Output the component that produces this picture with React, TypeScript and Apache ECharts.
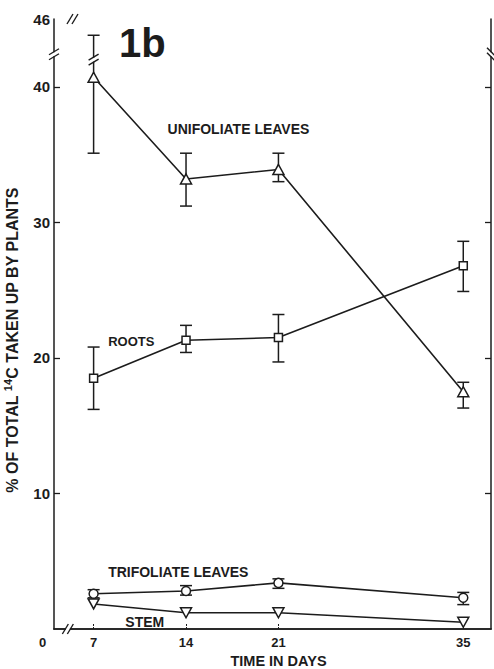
import React, { useEffect, useRef } from 'react';
import * as echarts from 'echarts';

// ---- data ----
const days = [7, 14, 21, 35];
const xTicks = [7, 14, 21, 35];
const yTicks = [10, 20, 30, 40];
const yTopValue = 45;
const yTopLabel = '46';

const unifoliate = [40.7, 33.2, 33.9, 17.5];
const unifoliateHigh = [43.8, 35.1, 35.1, 18.2];
const unifoliateLow = [35.1, 31.2, 33.0, 16.3];

const roots = [18.5, 21.3, 21.5, 26.8];
const rootsHigh = [20.8, 22.4, 23.2, 28.6];
const rootsLow = [16.2, 20.4, 19.7, 24.9];

const trifoliate = [2.6, 2.8, 3.4, 2.3];
const trifoliateHigh = [2.9, 3.2, 3.7, 2.7];
const trifoliateLow = [2.3, 2.5, 3.0, 1.8];

const stem = [1.85, 1.2, 1.2, 0.5];

const INK = '#1c1c1c';
const FONT = 'Liberation Sans, Arial, Helvetica, sans-serif';

function errorSeries(low: number[], high: number[]) {
  return {
    type: 'custom',
    z: 2,
    renderItem: (params: any, api: any) => {
      const x = api.value(0);
      const lo = api.coord([x, api.value(1)]);
      const hi = api.coord([x, api.value(2)]);
      const hw = 6;
      const style = { stroke: INK, lineWidth: 1.5, fill: 'none' };
      return {
        type: 'group',
        children: [
          { type: 'line', shape: { x1: lo[0], y1: lo[1], x2: hi[0], y2: hi[1] }, style },
          { type: 'line', shape: { x1: lo[0] - hw, y1: lo[1], x2: lo[0] + hw, y2: lo[1] }, style },
          { type: 'line', shape: { x1: hi[0] - hw, y1: hi[1], x2: hi[0] + hw, y2: hi[1] }, style },
        ],
      };
    },
    data: days.map((d, i) => [d, low[i], high[i]]),
    encode: { x: 0, y: [1, 2] },
  };
}

function lineSeries(name: string, values: number[], symbol: string, size: any, rotate = 0) {
  return {
    name,
    type: 'line',
    z: 5,
    data: days.map((d, i) => [d, values[i]]),
    symbol,
    symbolSize: size,
    symbolRotate: rotate,
    showAllSymbol: true,
    lineStyle: { color: INK, width: 1.6 },
    itemStyle: { color: '#fff', borderColor: INK, borderWidth: 1.5 },
  };
}

// break mark: two parallel slanted strokes with a white gap between
function breakMark(cx: number, cy: number, dx: number, dy: number, ox: number, oy: number, gapW: number, gapH: number) {
  const style = { stroke: INK, lineWidth: 1.4 };
  return {
    type: 'group',
    z: 50,
    children: [
      { type: 'rect', shape: { x: cx - gapW / 2, y: cy - gapH / 2, width: gapW, height: gapH }, style: { fill: '#fff' }, z: 50 },
      { type: 'line', shape: { x1: cx - ox - dx, y1: cy - oy + dy, x2: cx - ox + dx, y2: cy - oy - dy }, style, z: 51 },
      { type: 'line', shape: { x1: cx + ox - dx, y1: cy + oy + dy, x2: cx + ox + dx, y2: cy + oy - dy }, style, z: 51 },
    ],
  };
}

export default function App() {
  const ref = useRef<HTMLDivElement>(null);

  useEffect(() => {
    if (!ref.current) return;
    const chart = echarts.init(ref.current, null, { renderer: 'svg' });
    const xMin = 4;
    const xMax = 37.1;
    const option: any = {
      animation: false,
      backgroundColor: '#fff',
      grid: { left: 54, right: 3, top: 19, bottom: 40, containLabel: false, outerBoundsMode: 'none' },
      xAxis: [
        {
          type: 'value',
          min: xMin,
          max: xMax,
          position: 'bottom',
          axisLine: { show: true, lineStyle: { color: INK, width: 1.5 } },
          axisTick: { show: true, inside: true, length: 5, customValues: xTicks, lineStyle: { color: INK, width: 1, type: [2, 1] } },
          axisLabel: { show: true, customValues: xTicks, margin: 7, color: INK, fontFamily: FONT, fontWeight: 'bold', fontSize: 13 },
          splitLine: { show: false },
          name: 'TIME IN DAYS',
          nameLocation: 'middle',
          nameGap: 24,
          nameMoveOverlap: false,
          nameTextStyle: { color: INK, fontFamily: FONT, fontWeight: 'bold', fontSize: 14.5, padding: [0, 0, 0, 12] },
        },
        {
          type: 'value',
          min: xMin,
          max: xMax,
          position: 'top',
          axisLine: { show: true, lineStyle: { color: INK, width: 1.5 } },
          axisTick: { show: false },
          axisLabel: { show: false },
          splitLine: { show: false },
        },
      ],
      yAxis: [
        {
          type: 'value',
          min: 0,
          max: yTopValue,
          position: 'left',
          axisLine: { show: true, lineStyle: { color: INK, width: 1.5 } },
          axisTick: { show: true, inside: true, length: 6, customValues: yTicks, lineStyle: { color: INK, width: 1.3 } },
          axisLabel: {
            show: true,
            customValues: [...yTicks, yTopValue],
            formatter: (v: number) => (v === yTopValue ? yTopLabel : String(v)),
            margin: 4,
            color: INK,
            fontFamily: FONT,
            fontWeight: 'bold',
            fontSize: 15,
          },
          splitLine: { show: false },
          name: '% OF TOTAL {sup|14}C TAKEN UP BY PLANTS',
          nameLocation: 'middle',
          nameRotate: 90,
          nameGap: 32,
          nameMoveOverlap: false,
          nameTextStyle: {
            color: INK,
            fontFamily: FONT,
            fontWeight: 'bold',
            fontSize: 16,
            padding: [0, 32, 0, 0],
            rich: {
              sup: { fontFamily: FONT, fontWeight: 'bold', fontSize: 11, color: INK, padding: [0, 0, 9, 0] },
            },
          },
        },
        {
          type: 'value',
          min: 0,
          max: yTopValue,
          position: 'right',
          axisLine: { show: true, lineStyle: { color: INK, width: 1.5 } },
          axisTick: { show: true, inside: true, length: 6, customValues: yTicks, lineStyle: { color: INK, width: 1.3 } },
          axisLabel: { show: false },
          splitLine: { show: false },
        },
      ],
      series: [
        errorSeries(unifoliateLow, unifoliateHigh),
        errorSeries(rootsLow, rootsHigh),
        errorSeries(trifoliateLow, trifoliateHigh),
        lineSeries('UNIFOLIATE LEAVES', unifoliate, 'triangle', [11, 10]),
        lineSeries('ROOTS', roots, 'rect', 8),
        lineSeries('TRIFOLIATE LEAVES', trifoliate, 'circle', 9),
        lineSeries('STEM', stem, 'triangle', [11, 10], 180),
      ],
    };
    chart.setOption(option);

    const px = (x: number, y: number) => chart.convertToPixel({ seriesIndex: 3 }, [x, y]) as number[];
    const origin = px(xMin, 0);
    const topLeft = px(xMin, yTopValue);
    const yBreak = px(xMin, 42.4);
    const rBreak = px(xMax, 42.4);
    const xBreak = px(5.05, 0);
    const tBreak = px(5.4, yTopValue);
    const eBreak = px(days[0], 42.0);

    const label = (text: string, x: number, y: number, size: number, extra: any = {}) => ({
      type: 'text',
      z: 60,
      x,
      y,
      style: { text, fill: INK, font: `bold ${size}px ${FONT}`, textAlign: 'left', textVerticalAlign: 'middle', ...extra },
    });

    const uPos = px(12.6, 36.9);
    const rPos = px(8.1, 21.2);
    const tPos = px(8.1, 4.2);
    const sPos = px(9.4, 0.5);

    chart.setOption({
      graphic: [
        breakMark(yBreak[0], yBreak[1], 5, 3, 0, 2.5, 6, 4),
        breakMark(eBreak[0], eBreak[1], 5, 3, 0, 2.5, 6, 4),
        breakMark(rBreak[0], rBreak[1], -4, 4, 0, 2.5, 6, 4),
        breakMark(xBreak[0], xBreak[1], 3, 5, 2.5, 0, 4, 6),
        breakMark(tBreak[0], tBreak[1], 3, 5, 2.5, 0, 4, 6),
        label('0', origin[0] - 15, origin[1] + 13, 13),
        label('1b', topLeft[0] + 65, topLeft[1] + 24, 40),
        label('UNIFOLIATE LEAVES', uPos[0], uPos[1], 14),
        label('ROOTS', rPos[0], rPos[1], 13),
        label('TRIFOLIATE LEAVES', tPos[0], tPos[1], 14),
        label('STEM', sPos[0], sPos[1], 14),
      ],
    });

    return () => chart.dispose();
  }, []);

  return (
    <div
      ref={ref}
      style={{ position: 'fixed', left: 0, top: 0, width: 494, height: 669, background: '#fff' }}
    />
  );
}
